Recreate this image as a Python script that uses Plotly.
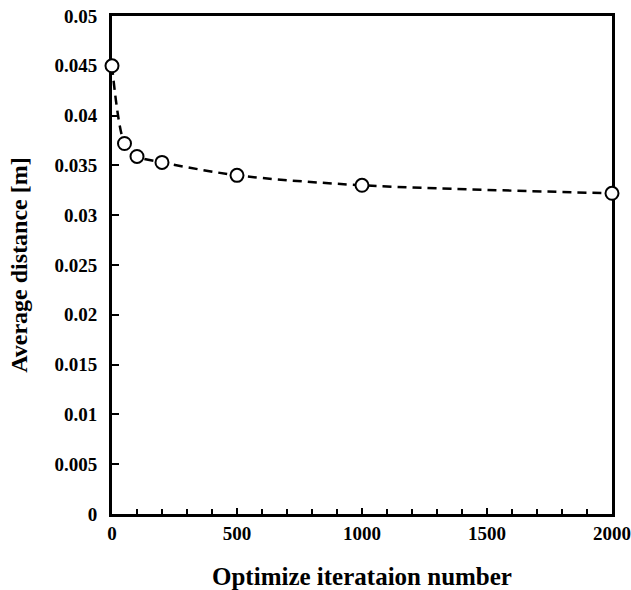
import plotly.graph_objects as go

iterations = [0, 50, 100, 200, 500, 1000, 2000]
avg_distance = [0.045, 0.0372, 0.0359, 0.0353, 0.0340, 0.0330, 0.0322]

font_family = "Liberation Serif"

fig = go.Figure()
fig.add_trace(go.Scatter(
    x=iterations, y=avg_distance, mode="lines+markers",
    line=dict(color="black", width=2.5, dash="9px,6px", shape="spline", smoothing=0.8),
    marker=dict(symbol="circle", size=13, color="white", line=dict(color="black", width=2)),
    cliponaxis=False, showlegend=False,
))

fig.update_layout(
    width=631, height=590,
    margin=dict(l=112, r=19, t=16, b=76),
    plot_bgcolor="white", paper_bgcolor="white",
    font=dict(family=font_family, size=19, color="black"),
    xaxis=dict(
        range=[0, 2000], tickvals=[0, 500, 1000, 1500, 2000],
        ticks="inside", ticklen=6, tickwidth=2, tickcolor="black",
        minor=dict(dtick=100, tick0=0, ticks="inside", ticklen=5, tickwidth=2, tickcolor="black"),
        showline=True, linewidth=3, linecolor="black", mirror=True,
        showgrid=False, zeroline=False, automargin=False, layer="below traces",
        tickfont=dict(family=font_family, size=19, color="black", weight="bold"),
        title=dict(text="<b>Optimize iterataion number</b>", font=dict(family=font_family, size=25), standoff=27),
    ),
    yaxis=dict(
        range=[0, 0.05], dtick=0.005, tick0=0,
        ticks="inside", ticklen=7, tickwidth=2, tickcolor="black",
        showline=True, linewidth=3, linecolor="black", mirror=True,
        showgrid=False, zeroline=False, automargin=False, layer="below traces",
        ticklabelstandoff=8,
        tickfont=dict(family=font_family, size=19, color="black", weight="bold"),
        title=dict(text="<b>Average distance [m]</b>", font=dict(family=font_family, size=24), standoff=21),
    ),
)

fig.write_html("out.html", config={"displayModeBar": False},
               post_script="document.body.style.margin='0';")
